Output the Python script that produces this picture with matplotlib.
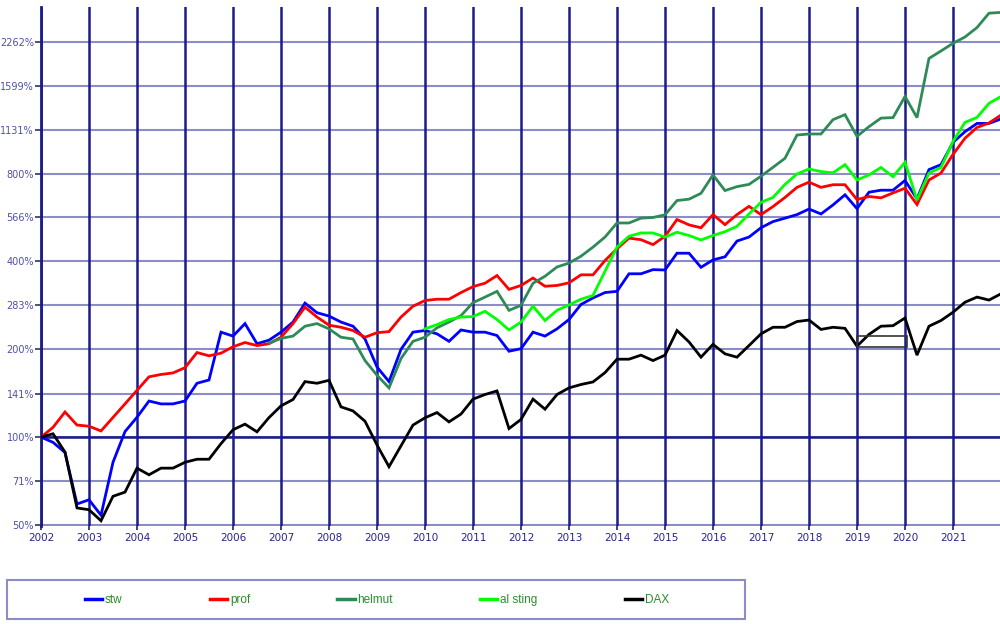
import matplotlib
matplotlib.use("Agg")
import matplotlib.pyplot as plt
from matplotlib.lines import Line2D
from matplotlib.patches import Rectangle
import numpy as np

# quarterly points, 2002.0 .. 2022.0
years = np.arange(2002.0, 2022.01, 0.25)

stw = [100, 96, 88.6, 59, 61, 54, 82, 104.5, 117, 133, 130, 130,
       133, 153, 157, 229, 222, 245, 209, 215, 229, 248, 288, 267,
       260, 248, 240, 217, 174, 155, 200, 229, 232, 226, 213, 233,
       229, 229, 223, 197, 201, 229, 222, 235, 253, 285, 300, 313,
       316, 363, 363, 375, 374, 427, 427, 382, 405, 415, 470, 485,
       522, 548, 563, 579, 605, 582, 625, 677, 607, 691, 702, 702,
       758, 656, 826, 859, 1024, 1114, 1189, 1189, 1232]

prof = [100, 108, 122, 110, 109, 105, None, None, None, 161, 164, 166,
        173, 195, 190, 194, 204, 211, 206, 209, 220, 245, 279, 258,
        242, 238, 232, 220, 228, 230, 258, 281, 294, 297, 297, 313,
        328, 337, 358, 321, 331, 351, 329, 331, 338, 360, 360, 403,
        442, 481, 475, 457, 488, 557, 534, 522, 579, 535, 579, 618,
        579, 617, 663, 718, 748, 718, 733, 733, 652, 668, 661, 687,
        713, 627, 761, 804, 931, 1058, 1152, 1193, 1270]

helmut = [None] * 19 + [
          210, 218, 222, 240, 245,
          235, 220, 217, 183, 163, 147.5, 186, 213, 220, 237, 248, 261,
          289, 302, 316, 272, 283, 337, 356, 383, 395, 417, 448, 485,
          542, 542, 563, 566, 578, 647, 654, 685, 792, 700, 722, 735,
          784, 841, 903, 1085, 1094, 1094, 1225, 1274, 1074, 1159, 1240, 1245,
          1471, 1245, 1986, 2106, 2238, 2352, 2534, 2838, 2856]

al_sting = [None] * 32 + [
            235, 243, 253, 258,
            259, 270, 253, 233, 248, 281, 251, 272, 284, 297, 306, None,
            448, 488, 501, 501, 485, 504, 491, 474, 491, 506, 528, 582,
            638, 663, 735, 798, 830, 813, 805, 859, 761, 792, 840, 781,
            875, 650, 804, 840, 1031, 1199, 1247, 1393, 1471]

dax = [100, 102.7, 88.9, 57.2, 56.4, 51.7, 62.7, 64.8, 78.3, 74.3, 78.3, 78.3,
       82, 84, 84, 95, 106, 110.8, 104.3, 116.7, 128, 134.6, 155, 153,
       156.6, 127, 123, 113.4, 94, 79.2, 93.4, 110, 116.5, 121.4, 112.8, 120,
       135, 140, 144, 107, 115, 135, 124.7, 140, 147.5, 151.5, 154.6, 166.4,
       185, 185, 191, 183, 191, 232, 212, 188, 208, 193, 188, 206,
       226, 238, 238, 249, 252, 234, 238, 236, 205, 225, 240, 241,
       256, 191, 240, 251, 268, 290, 302, 295, 310]

series_names = ["stw", "prof", "helmut", "al sting", "DAX"]
series_vals = [stw, prof, helmut, al_sting, dax]
series_colors = ["#0000ff", "#ff0000", "#2e8b57", "#00ff00", "#000000"]

ytick_vals = [50, 71, 100, 141, 200, 283, 400, 566, 800, 1131, 1599, 2262]
ytick_labels = ["50%", "71%", "100%", "141%", "200%", "283%", "400%",
                "566%", "800%", "1131%", "1599%", "2262%"]
year_ticks = list(range(2002, 2022))

# odd little box drawn on the chart
box_x = [2019.0, 2020.05]
box_y = [203, 222]

navy = "#1a1a8c"
light = "#8c8cc8"

fig = plt.figure(figsize=(10, 6.24), dpi=100)
ax = fig.add_axes([0.041, 1 - 526 / 624, 0.96, 519 / 624])
ax.set_yscale("log")
ax.set_xlim(2002, 2022)
ax.set_ylim(49.6, 2980)

# grid
for v in ytick_vals:
    ax.axhline(v, color=light, lw=1.5, zorder=1)
ax.axhline(100, color=navy, lw=1.8, zorder=2)
for yr in year_ticks:
    ax.axvline(yr, color=navy, lw=1.8, zorder=2)

for name, vals, col in zip(series_names, series_vals, series_colors):
    pts = [(x, v) for x, v in zip(years, vals) if v is not None]
    xs, vs = zip(*pts)
    ax.plot(xs, vs, color=col, lw=2.0, zorder=3, solid_joinstyle="miter")

ax.add_patch(Rectangle((box_x[0], box_y[0]), box_x[1] - box_x[0], box_y[1] - box_y[0],
                       fill=False, edgecolor="#333333", lw=1.2, zorder=4))

ax.set_yticks(ytick_vals)
ax.set_yticklabels(ytick_labels)
ax.yaxis.set_minor_locator(matplotlib.ticker.NullLocator())
ax.set_xticks(year_ticks)
ax.set_xticklabels([str(y) for y in year_ticks])

for s in ["top", "right", "bottom"]:
    ax.spines[s].set_visible(False)
ax.spines["left"].set_color(navy)
ax.spines["left"].set_linewidth(2)

ax.tick_params(axis="y", length=4, width=1.2, color="#333355", labelsize=7,
               labelcolor="#5050a8", pad=1)
ax.tick_params(axis="x", length=3, width=1.2, color=navy, labelsize=7.5,
               labelcolor="#24248c", pad=2)

# legend box
fig.add_artist(Rectangle((7 / 1000, 1 - 619 / 624), 738 / 1000, 39 / 624,
                         transform=fig.transFigure, fill=False,
                         edgecolor=light, lw=1.5))
handles = [Line2D([], [], color=c, lw=2.5) for c in series_colors]
fig.legend(handles, series_names, ncol=5, loc="center",
           bbox_to_anchor=(0.377, 1 - 600 / 624), frameon=False,
           handlelength=1.45, handletextpad=0.25, columnspacing=7.4,
           prop={"family": "Liberation Sans", "size": 8.5},
           labelcolor="#2e8b2e")

fig.savefig("out.png", dpi=100)
